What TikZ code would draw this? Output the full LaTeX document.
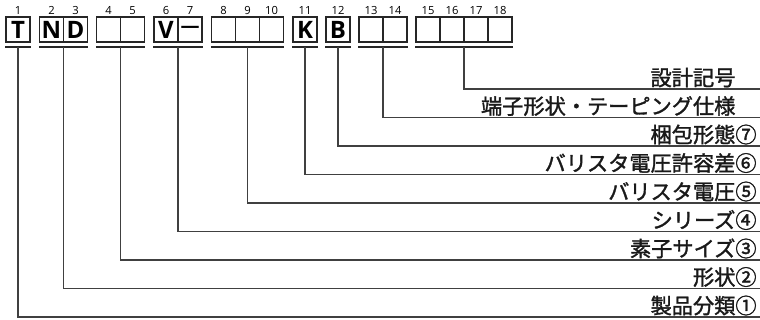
\documentclass[tikz,border=0pt]{standalone}
\usepackage{fontspec}
\setmainfont{Open Sans}
\newfontfamily\jpfont{Noto Sans CJK JP}[FakeBold=1.5]
\usepackage{tikz}

\tikzset{
  cell/.style={draw=black!85,line width=0.7pt,minimum width=12pt,minimum height=12.5pt,inner sep=0pt,font=\fontsize{12}{12}\selectfont\bfseries},
  num/.style={inner sep=0.7pt,font=\fontsize{5.6}{6}\selectfont,text=black},
  bar/.style={line width=1pt,black!85},
  lead/.style={line width=0.55pt,black!75},
  item/.style={anchor=south east,inner xsep=1.5pt,inner ysep=0.6pt,font=\jpfont\fontsize{10.6}{10.6}\selectfont,text=black!90}
}

\begin{document}
\begin{tikzpicture}[x=0.5pt,y=-0.5pt]
\useasboundingbox (0,0) rectangle (760,320);

\node (B1) at (18,29.5)[cell,label={[num]above:1}] {T};
\node (B2) at (51.5,29.5)[cell,label={[num]above:2}] {N};
\node (B3) at (75.5,29.5)[cell,label={[num]above:3}] {D};
\node (B4) at (108.5,29.5)[cell,label={[num]above:4}] {};
\node (B5) at (132.5,29.5)[cell,label={[num]above:5}] {};
\node (B6) at (166,29.5)[cell,label={[num]above:6}] {V};
\node (B7) at (190,29.5)[cell,label={[num]above:7}] {\fontsize{9.5}{9.5}\selectfont —};
\node (B8) at (223.5,29.5)[cell,label={[num]above:8}] {};
\node (B9) at (247.5,29.5)[cell,label={[num]above:9}] {};
\node (B10) at (271.5,29.5)[cell,label={[num]above:10}] {};
\node (B11) at (305,29.5)[cell,label={[num]above:11}] {K};
\node (B12) at (338,29.5)[cell,label={[num]above:12}] {B};
\node (B13) at (371,29.5)[cell,label={[num]above:13}] {};
\node (B14) at (395,29.5)[cell,label={[num]above:14}] {};
\node (B15) at (428,29.5)[cell,label={[num]above:15}] {};
\node (B16) at (452,29.5)[cell,label={[num]above:16}] {};
\node (B17) at (476,29.5)[cell,label={[num]above:17}] {};
\node (B18) at (500,29.5)[cell,label={[num]above:18}] {};

\node (L9) at (760,89)[item] {設計記号\phantom{⑦}};
\node (L8) at (760,117.5)[item] {端子形状・テーピング仕様\phantom{⑦}};
\node (L7) at (760,146)[item] {梱包形態⑦};
\node (L6) at (760,174.5)[item] {バリスタ電圧許容差⑥};
\node (L5) at (760,203)[item] {バリスタ電圧⑤};
\node (L4) at (760,231.5)[item] {シリーズ④};
\node (L3) at (760,260)[item] {素子サイズ③};
\node (L2) at (760,288.5)[item] {形状②};
\node (L1) at (760,317)[item] {製品分類①};

\draw [bar] ([yshift=-2pt]B1.south west) -- coordinate (G1) ([yshift=-2pt]B1.south east);
\draw [bar] ([yshift=-2pt]B2.south west) -- coordinate (G2) ([yshift=-2pt]B3.south east);
\draw [bar] ([yshift=-2pt]B4.south west) -- coordinate (G3) ([yshift=-2pt]B5.south east);
\draw [bar] ([yshift=-2pt]B6.south west) -- coordinate (G4) ([yshift=-2pt]B7.south east);
\draw [bar] ([yshift=-2pt]B8.south west) -- coordinate (G5) ([yshift=-2pt]B10.south east);
\draw [bar] ([yshift=-2pt]B11.south west) -- coordinate (G6) ([yshift=-2pt]B11.south east);
\draw [bar] ([yshift=-2pt]B12.south west) -- coordinate (G7) ([yshift=-2pt]B12.south east);
\draw [bar] ([yshift=-2pt]B13.south west) -- coordinate (G8) ([yshift=-2pt]B14.south east);
\draw [bar] ([yshift=-2pt]B15.south west) -- coordinate (G9) ([yshift=-2pt]B18.south east);

\draw [lead] (G1) |- (L1.south east);
\draw [lead] (G2) |- (L2.south east);
\draw [lead] (G3) |- (L3.south east);
\draw [lead] (G4) |- (L4.south east);
\draw [lead] (G5) |- (L5.south east);
\draw [lead] (G6) |- (L6.south east);
\draw [lead] (G7) |- (L7.south east);
\draw [lead] (G8) |- (L8.south east);
\draw [lead] (G9) |- (L9.south east);
\end{tikzpicture}
\end{document}
